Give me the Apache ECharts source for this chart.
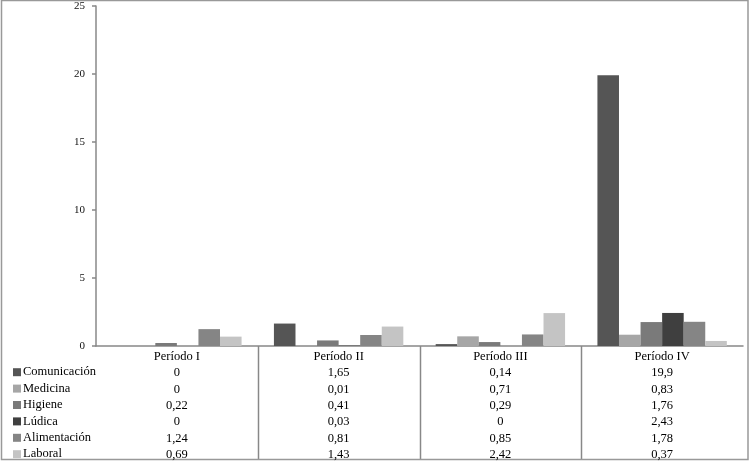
<!DOCTYPE html>
<html>
<head>
<meta charset="utf-8">
<script src="https://cdn.jsdelivr.net/npm/echarts@6/dist/echarts.min.js"></script>
<style>html,body{margin:0;padding:0;background:#fff}#c{width:750px;height:461px}</style>
</head>
<body>
<div id="c"></div>
<script>
var categories = ['Período I', 'Período II', 'Período III', 'Período IV'];
var seriesNames = ['Comunicación', 'Medicina', 'Higiene', 'Lúdica', 'Alimentación', 'Laboral'];
var comunicacion = [0, 1.65, 0.14, 19.9];
var medicina = [0, 0.01, 0.71, 0.83];
var higiene = [0.22, 0.41, 0.29, 1.76];
var ludica = [0, 0.03, 0, 2.43];
var alimentacion = [1.24, 0.81, 0.85, 1.78];
var laboral = [0.69, 1.43, 2.42, 0.37];
var yTicks = [0, 5, 10, 15, 20, 25];
var colors = ['#555555', '#a6a6a6', '#7a7a7a', '#3f3f3f', '#858585', '#c4c4c4'];

var allValues = [comunicacion, medicina, higiene, ludica, alimentacion, laboral];
function fmt(v) { return String(v).replace('.', ','); }

var chart = echarts.init(document.getElementById('c'));
var font = "'Liberation Serif', 'Times New Roman', serif";
var option = {
  animation: false,
  backgroundColor: '#fff',
  color: colors,
  textStyle: { fontFamily: font },
  grid: { left: 96, right: 7, top: 6, bottom: 115, containLabel: false, outerBoundsMode: 'none' },
  legend: {
    orient: 'vertical', left: 13, top: 364, height: 140, itemWidth: 8, itemHeight: 8, itemGap: 0,
    icon: 'rect', padding: 0,
    textStyle: { fontFamily: font, fontSize: 12.5, color: '#000', lineHeight: 16.4, padding: [0, 0, 0, -3] },
    data: seriesNames
  },
  xAxis: {
    type: 'category', data: categories,
    axisLine: { lineStyle: { color: '#888', width: 1.5 } },
    axisTick: { show: false },
    axisLabel: {
      margin: 2.5, interval: 0, fontFamily: font, fontSize: 12.5, color: '#000', lineHeight: 16.35,
      formatter: function (val, idx) {
        var lines = [val];
        for (var i = 0; i < allValues.length; i++) lines.push(fmt(allValues[i][idx]));
        return lines.join('\n');
      }
    }
  },
  yAxis: {
    type: 'value', min: yTicks[0], max: yTicks[yTicks.length - 1], interval: 5,
    axisLine: { show: true, lineStyle: { color: '#888', width: 1.5 } },
    axisTick: { show: true, length: 4, lineStyle: { color: '#888', width: 1.5 } },
    splitLine: { show: false },
    axisLabel: { margin: 11, fontFamily: font, fontSize: 11, color: '#111' }
  },
  series: seriesNames.map(function (n, i) {
    return { name: n, type: 'bar', data: allValues[i], barGap: '0%', barCategoryGap: '20%',
      itemStyle: { color: colors[i] } };
  })
};
chart.setOption(option);

// table lines derived from axis positions
var c0 = chart.convertToPixel({ xAxisIndex: 0 }, 0);
var c1 = chart.convertToPixel({ xAxisIndex: 0 }, 1);
var bw = c1 - c0;
var y0 = chart.convertToPixel({ yAxisIndex: 0 }, 0);
var g = [];
for (var k = 1; k < categories.length; k++) {
  var x = Math.round(c0 - bw / 2 + k * bw) + 0.5;
  g.push({ type: 'line', shape: { x1: x, y1: y0, x2: x, y2: 459 }, style: { stroke: '#888', lineWidth: 1.5 } });
}
g.push({ type: 'rect', shape: { x: 1.5, y: 0.5, width: 746.5, height: 459 }, style: { fill: 'none', stroke: '#999', lineWidth: 1.5 } });
chart.setOption({ graphic: g });
</script>
</body>
</html>
